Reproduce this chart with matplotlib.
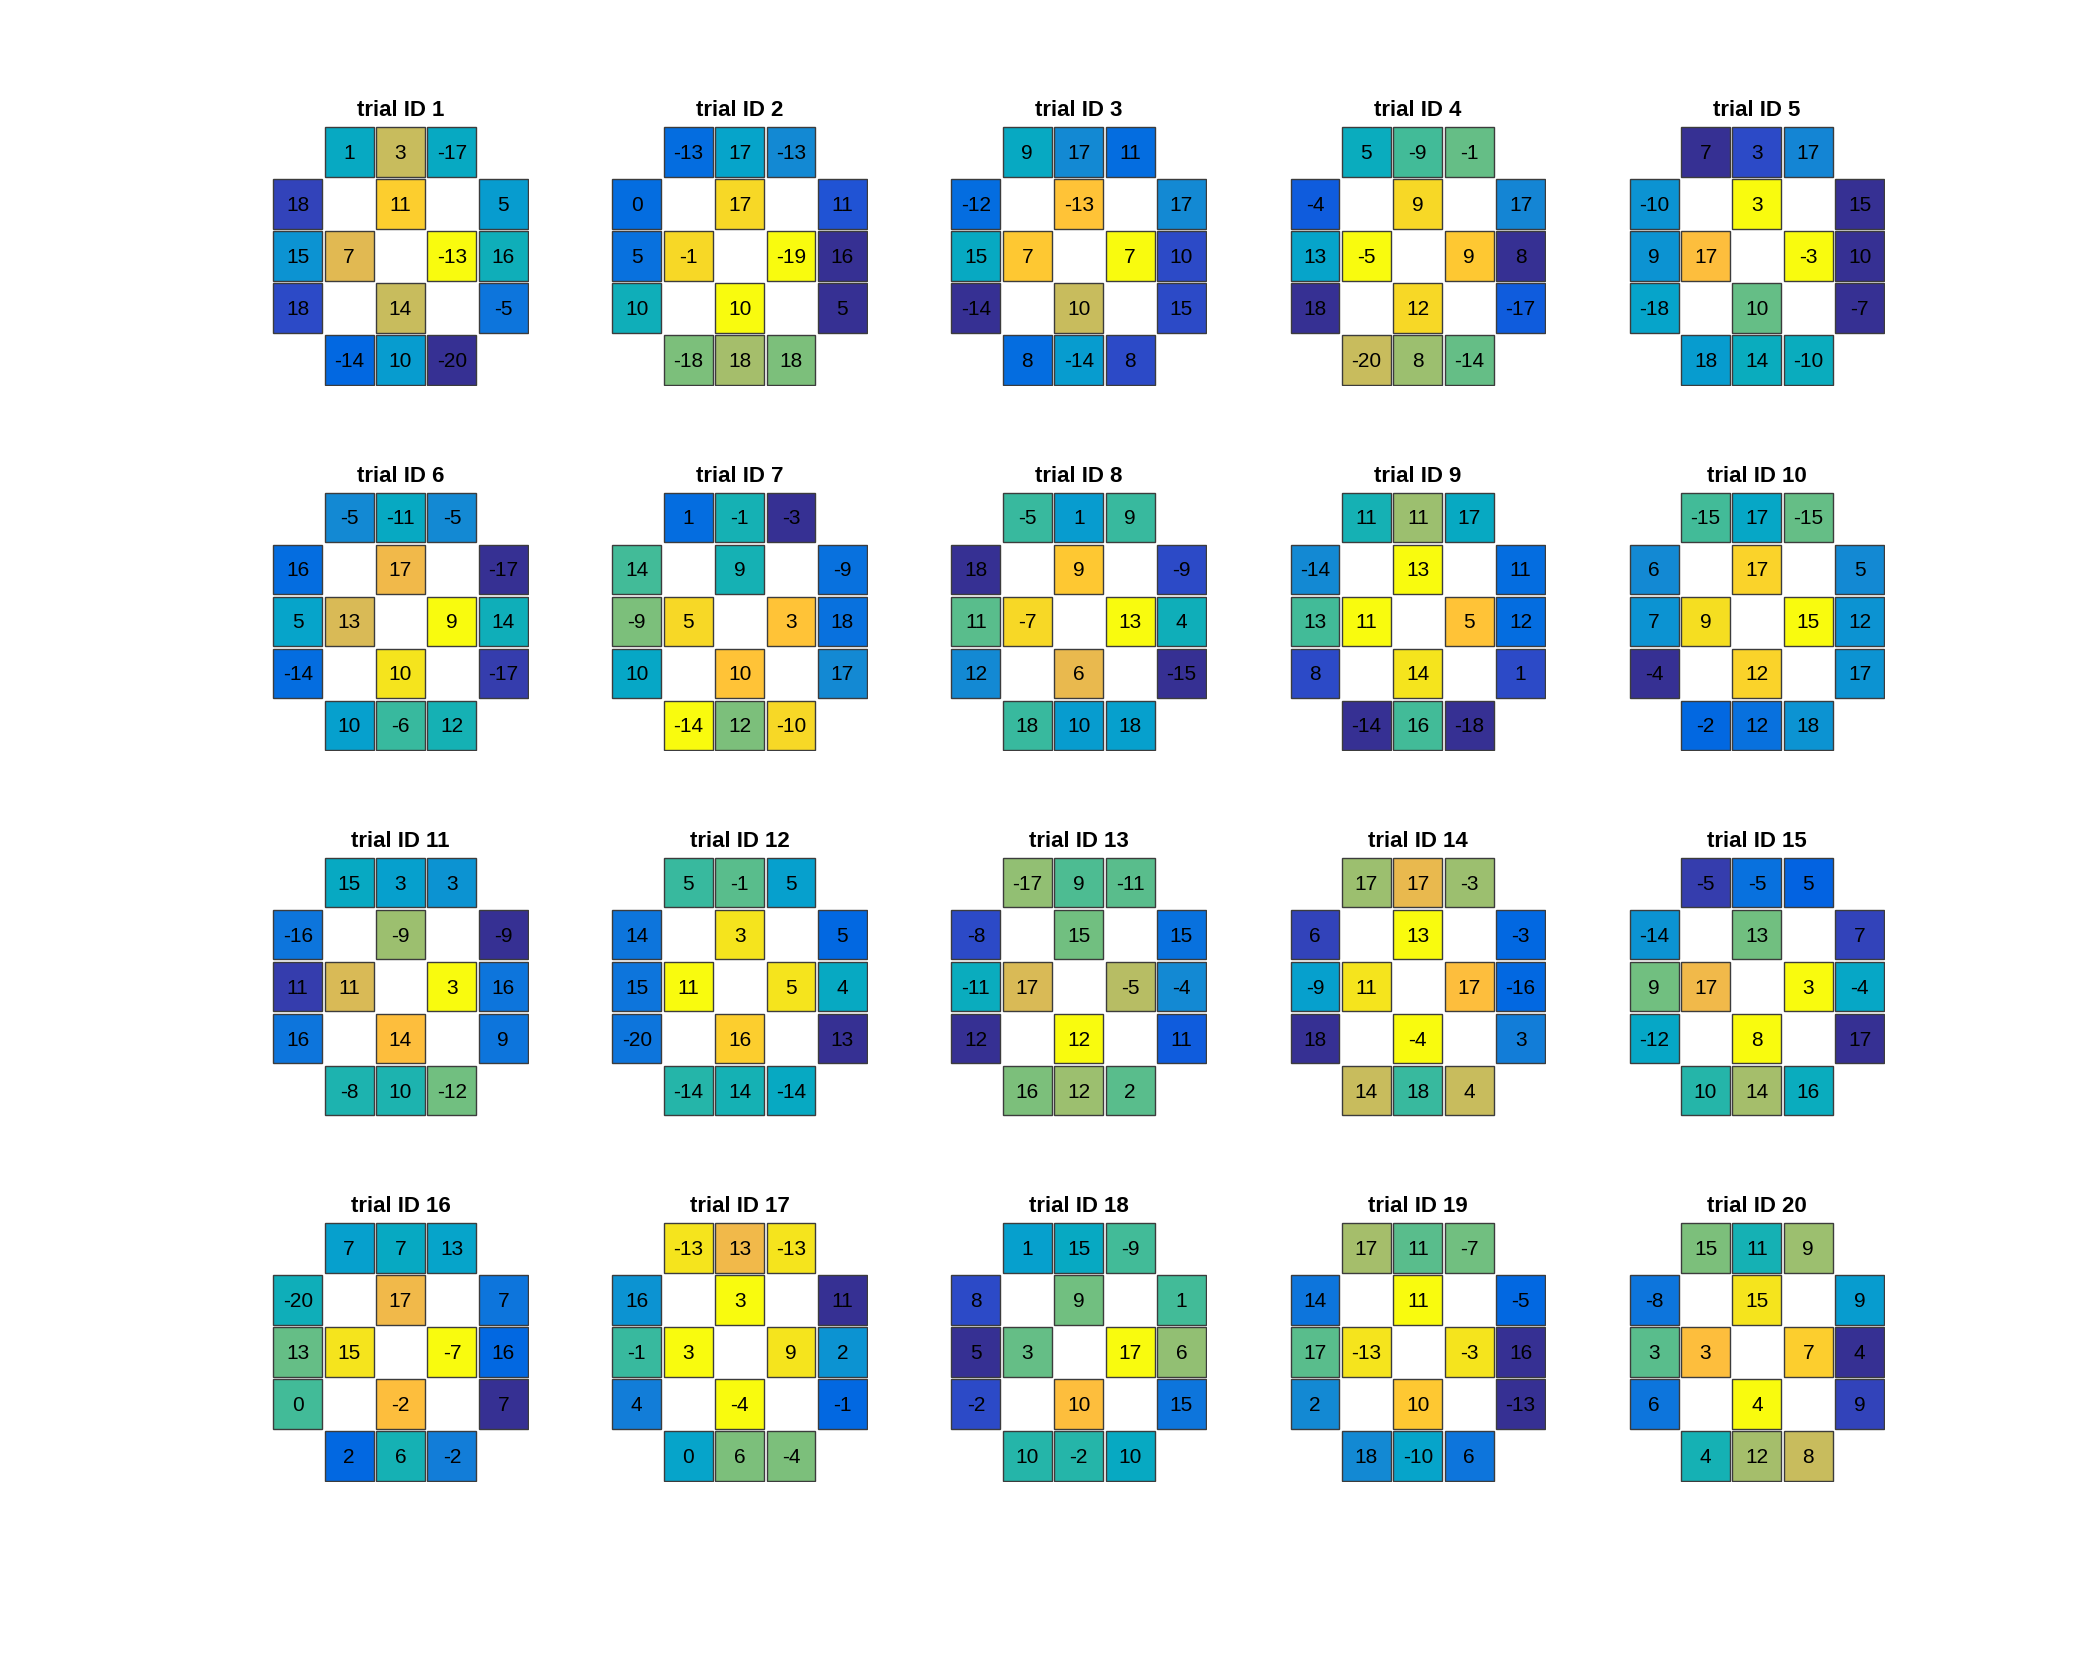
import numpy as np
import matplotlib
matplotlib.use("Agg")
import matplotlib.pyplot as plt
from matplotlib.colors import ListedColormap
from matplotlib.patches import Rectangle

plt.rcParams["font.family"] = ["Liberation Sans", "DejaVu Sans"]

# parula (64 entries)
parula = ListedColormap([
    [0.2081, 0.1663, 0.5292], [0.2116, 0.1898, 0.5777], [0.2123, 0.2138, 0.6270], [0.2081, 0.2386, 0.6771],
    [0.1959, 0.2645, 0.7279], [0.1707, 0.2919, 0.7792], [0.1253, 0.3242, 0.8303], [0.0591, 0.3598, 0.8683],
    [0.0117, 0.3875, 0.8820], [0.0060, 0.4086, 0.8828], [0.0165, 0.4266, 0.8786], [0.0329, 0.4430, 0.8720],
    [0.0498, 0.4586, 0.8641], [0.0629, 0.4737, 0.8554], [0.0723, 0.4887, 0.8467], [0.0779, 0.5040, 0.8384],
    [0.0793, 0.5200, 0.8312], [0.0749, 0.5375, 0.8263], [0.0641, 0.5570, 0.8240], [0.0488, 0.5772, 0.8228],
    [0.0343, 0.5966, 0.8199], [0.0265, 0.6137, 0.8135], [0.0239, 0.6287, 0.8038], [0.0231, 0.6418, 0.7913],
    [0.0228, 0.6535, 0.7768], [0.0267, 0.6642, 0.7607], [0.0384, 0.6743, 0.7436], [0.0590, 0.6838, 0.7254],
    [0.0843, 0.6928, 0.7062], [0.1133, 0.7015, 0.6859], [0.1453, 0.7098, 0.6646], [0.1801, 0.7177, 0.6424],
    [0.2178, 0.7250, 0.6193], [0.2586, 0.7317, 0.5954], [0.3022, 0.7376, 0.5712], [0.3482, 0.7424, 0.5473],
    [0.3953, 0.7459, 0.5244], [0.4420, 0.7481, 0.5033], [0.4871, 0.7491, 0.4840], [0.5300, 0.7491, 0.4661],
    [0.5709, 0.7485, 0.4494], [0.6099, 0.7473, 0.4337], [0.6473, 0.7456, 0.4188], [0.6834, 0.7435, 0.4044],
    [0.7184, 0.7411, 0.3905], [0.7525, 0.7384, 0.3768], [0.7858, 0.7356, 0.3633], [0.8185, 0.7327, 0.3498],
    [0.8507, 0.7299, 0.3360], [0.8824, 0.7274, 0.3217], [0.9139, 0.7258, 0.3063], [0.9450, 0.7261, 0.2886],
    [0.9739, 0.7314, 0.2666], [0.9938, 0.7455, 0.2403], [0.9990, 0.7653, 0.2164], [0.9955, 0.7861, 0.1967],
    [0.9880, 0.8066, 0.1794], [0.9789, 0.8271, 0.1633], [0.9697, 0.8481, 0.1475], [0.9626, 0.8705, 0.1309],
    [0.9589, 0.8949, 0.1132], [0.9598, 0.9218, 0.0948], [0.9661, 0.9514, 0.0755], [0.9763, 0.9831, 0.0538],
])

# cell layout on the 5x5 grid (row, col)
cells = [(0, 1), (0, 2), (0, 3), (1, 0), (1, 2), (1, 4), (2, 0), (2, 1),
         (2, 3), (2, 4), (3, 0), (3, 2), (3, 4), (4, 1), (4, 2), (4, 3)]

titles = ["trial ID %d" % i for i in range(1, 21)]

# numbers written in the cells
values = [
    [1, 3, -17, 18, 11, 5, 15, 7, -13, 16, 18, 14, -5, -14, 10, -20],
    [-13, 17, -13, 0, 17, 11, 5, -1, -19, 16, 10, 10, 5, -18, 18, 18],
    [9, 17, 11, -12, -13, 17, 15, 7, 7, 10, -14, 10, 15, 8, -14, 8],
    [5, -9, -1, -4, 9, 17, 13, -5, 9, 8, 18, 12, -17, -20, 8, -14],
    [7, 3, 17, -10, 3, 15, 9, 17, -3, 10, -18, 10, -7, 18, 14, -10],
    [-5, -11, -5, 16, 17, -17, 5, 13, 9, 14, -14, 10, -17, 10, -6, 12],
    [1, -1, -3, 14, 9, -9, -9, 5, 3, 18, 10, 10, 17, -14, 12, -10],
    [-5, 1, 9, 18, 9, -9, 11, -7, 13, 4, 12, 6, -15, 18, 10, 18],
    [11, 11, 17, -14, 13, 11, 13, 11, 5, 12, 8, 14, 1, -14, 16, -18],
    [-15, 17, -15, 6, 17, 5, 7, 9, 15, 12, -4, 12, 17, -2, 12, 18],
    [15, 3, 3, -16, -9, -9, 11, 11, 3, 16, 16, 14, 9, -8, 10, -12],
    [5, -1, 5, 14, 3, 5, 15, 11, 5, 4, -20, 16, 13, -14, 14, -14],
    [-17, 9, -11, -8, 15, 15, -11, 17, -5, -4, 12, 12, 11, 16, 12, 2],
    [17, 17, -3, 6, 13, -3, -9, 11, 17, -16, 18, -4, 3, 14, 18, 4],
    [-5, -5, 5, -14, 13, 7, 9, 17, 3, -4, -12, 8, 17, 10, 14, 16],
    [7, 7, 13, -20, 17, 7, 13, 15, -7, 16, 0, -2, 7, 2, 6, -2],
    [-13, 13, -13, 16, 3, 11, -1, 3, 9, 2, 4, -4, -1, 0, 6, -4],
    [1, 15, -9, 8, 9, 1, 5, 3, 17, 6, -2, 10, 15, 10, -2, 10],
    [17, 11, -7, 14, 11, -5, 17, -13, -3, 16, 2, 10, -13, 18, -10, 6],
    [15, 11, 9, -8, 15, 9, 3, 3, 7, 4, 6, 4, 9, 4, 12, 8],
]

# colour level of each cell (0..1 on parula)
levels = [
    [0.40, 0.72, 0.40, 0.07, 0.88, 0.33, 0.30, 0.78, 1.00, 0.43, 0.08, 0.72, 0.20, 0.15, 0.33, 0.02],
    [0.17, 0.37, 0.28, 0.17, 0.92, 0.10, 0.18, 0.92, 0.99, 0.02, 0.43, 1.00, 0.02, 0.60, 0.67, 0.60],
    [0.40, 0.28, 0.17, 0.17, 0.85, 0.27, 0.40, 0.86, 1.00, 0.08, 0.02, 0.73, 0.08, 0.17, 0.33, 0.08],
    [0.42, 0.52, 0.57, 0.12, 0.91, 0.25, 0.36, 1.00, 0.86, 0.02, 0.02, 0.91, 0.12, 0.73, 0.65, 0.57],
    [0.02, 0.08, 0.25, 0.30, 1.00, 0.02, 0.30, 0.83, 1.00, 0.02, 0.36, 0.57, 0.02, 0.34, 0.41, 0.41],
    [0.27, 0.40, 0.27, 0.17, 0.81, 0.02, 0.36, 0.76, 1.00, 0.43, 0.17, 0.94, 0.05, 0.35, 0.50, 0.44],
    [0.17, 0.45, 0.02, 0.52, 0.44, 0.18, 0.60, 0.91, 0.85, 0.18, 0.38, 0.85, 0.28, 1.00, 0.60, 0.92],
    [0.50, 0.34, 0.50, 0.02, 0.86, 0.08, 0.55, 0.92, 1.00, 0.43, 0.27, 0.79, 0.02, 0.50, 0.34, 0.35],
    [0.45, 0.65, 0.40, 0.27, 1.00, 0.17, 0.52, 1.00, 0.85, 0.17, 0.08, 0.94, 0.08, 0.02, 0.52, 0.02],
    [0.53, 0.38, 0.57, 0.27, 0.90, 0.27, 0.30, 0.93, 1.00, 0.30, 0.02, 0.90, 0.30, 0.15, 0.18, 0.30],
    [0.40, 0.35, 0.30, 0.20, 0.65, 0.02, 0.06, 0.76, 1.00, 0.20, 0.20, 0.83, 0.20, 0.46, 0.46, 0.58],
    [0.50, 0.55, 0.35, 0.20, 0.94, 0.15, 0.20, 1.00, 0.94, 0.40, 0.20, 0.89, 0.02, 0.48, 0.45, 0.40],
    [0.64, 0.54, 0.55, 0.08, 0.58, 0.18, 0.42, 0.76, 0.70, 0.28, 0.02, 1.00, 0.12, 0.60, 0.65, 0.55],
    [0.65, 0.79, 0.65, 0.07, 1.00, 0.15, 0.35, 0.95, 0.84, 0.15, 0.02, 1.00, 0.22, 0.72, 0.50, 0.72],
    [0.06, 0.18, 0.13, 0.30, 0.58, 0.07, 0.58, 0.80, 1.00, 0.38, 0.38, 1.00, 0.02, 0.47, 0.67, 0.42],
    [0.35, 0.40, 0.36, 0.43, 0.80, 0.20, 0.57, 0.95, 1.00, 0.15, 0.52, 0.84, 0.02, 0.15, 0.44, 0.22],
    [0.94, 0.81, 0.95, 0.30, 1.00, 0.02, 0.50, 1.00, 0.94, 0.30, 0.23, 1.00, 0.15, 0.37, 0.60, 0.60],
    [0.35, 0.40, 0.53, 0.08, 0.58, 0.52, 0.02, 0.57, 1.00, 0.63, 0.08, 0.84, 0.20, 0.47, 0.48, 0.40],
    [0.67, 0.55, 0.58, 0.20, 1.00, 0.15, 0.55, 0.95, 0.95, 0.02, 0.27, 0.87, 0.02, 0.28, 0.37, 0.20],
    [0.60, 0.45, 0.65, 0.20, 0.94, 0.33, 0.55, 0.84, 0.89, 0.02, 0.20, 1.00, 0.07, 0.44, 0.66, 0.72],
]

W, H = 2083, 1667
fig = plt.figure(figsize=(W / 100, H / 100), dpi=100)

gap = 0.05
for k in range(20):
    i, j = divmod(k, 5)
    left = (272 + 339.1 * j) / W
    top = (126 + 365.3 * i) / H
    ax = fig.add_axes([left, 1 - top - 260 / H, 257 / W, 260 / H])
    for (r, c), v, lv in zip(cells, values[k], levels[k]):
        ax.add_patch(Rectangle((c + gap / 2, r + gap / 2), 1 - gap, 1 - gap,
                               facecolor=parula(lv), edgecolor="#3c3c3c", linewidth=1.0))
        ax.text(c + 0.5, r + 0.53, str(v), ha="center", va="center", fontsize=15, color="black")
    ax.set_xlim(0, 5)
    ax.set_ylim(5, 0)
    ax.axis("off")
    ax.set_title(titles[k], fontsize=16, fontweight="bold", pad=7)

fig.savefig("out.png", dpi=100)
